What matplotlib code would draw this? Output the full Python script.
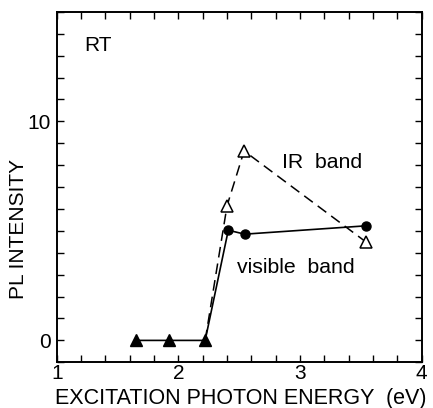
"""
PL intensity vs excitation photon energy (RT)
"""
import matplotlib.pyplot as plt
from matplotlib.ticker import MultipleLocator

plt.rcParams['font.family'] = ['Liberation Sans', 'DejaVu Sans']

# zero-intensity points shared by both bands
zero_x = [1.65, 1.92, 2.22]
zero_y = [0, 0, 0]

# IR band (open triangles, dashed)
ir_x = [2.40, 2.54, 3.54]
ir_y = [6.15, 8.65, 4.5]

# visible band (filled circles, solid)
vis_x = [2.41, 2.545, 3.54]
vis_y = [5.03, 4.85, 5.23]

fig = plt.figure(figsize=(4.33, 4.08), dpi=100)
ax = fig.add_axes([0.131, 0.112, 0.843, 0.859])

# connecting lines
ax.plot(zero_x + vis_x, zero_y + vis_y, color='black', lw=1.2, zorder=2)
ax.plot(zero_x[-1:] + ir_x, zero_y[-1:] + ir_y, color='black', lw=1.1,
        dashes=(7, 4), zorder=2)

ax.plot(vis_x, vis_y, 'o', color='black', ms=6.5, zorder=3)
ax.plot(ir_x, ir_y, '^', mfc='white', mec='black', mew=1.1, ms=8.5, zorder=3)
ax.plot(zero_x, zero_y, '^', color='black', ms=9, zorder=3)

ax.text(1.23, 13.45, 'RT', fontsize=15, va='center', ha='left')
ax.text(2.85, 8.14, 'IR  band', fontsize=15.3, va='center', ha='left')
ax.text(2.48, 3.34, 'visible  band', fontsize=15.3, va='center', ha='left')

ax.set_xlim(1, 4)
ax.set_ylim(-1, 15)
ax.set_xticks([1, 2, 3, 4])
ax.set_yticks([0, 10])
ax.xaxis.set_minor_locator(MultipleLocator(0.2))
ax.yaxis.set_minor_locator(MultipleLocator(1))
ax.tick_params(which='both', direction='in', top=True, right=True,
               length=5, width=1, labelsize=15, pad=4)
ax.tick_params(axis='x', which='major', pad=1.5)

for s in ax.spines.values():
    s.set_linewidth(1.4)

ax.set_xlabel('EXCITATION PHOTON ENERGY  (eV)', fontsize=15.5)
ax.xaxis.set_label_coords(0.505, -0.118, transform=ax.transAxes)
ax.xaxis.label.set_va('baseline')
ax.set_ylabel('PL INTENSITY', fontsize=15)
ax.yaxis.set_label_coords(-0.079, 0.38, transform=ax.transAxes)

plt.savefig('out.png', dpi=100)
